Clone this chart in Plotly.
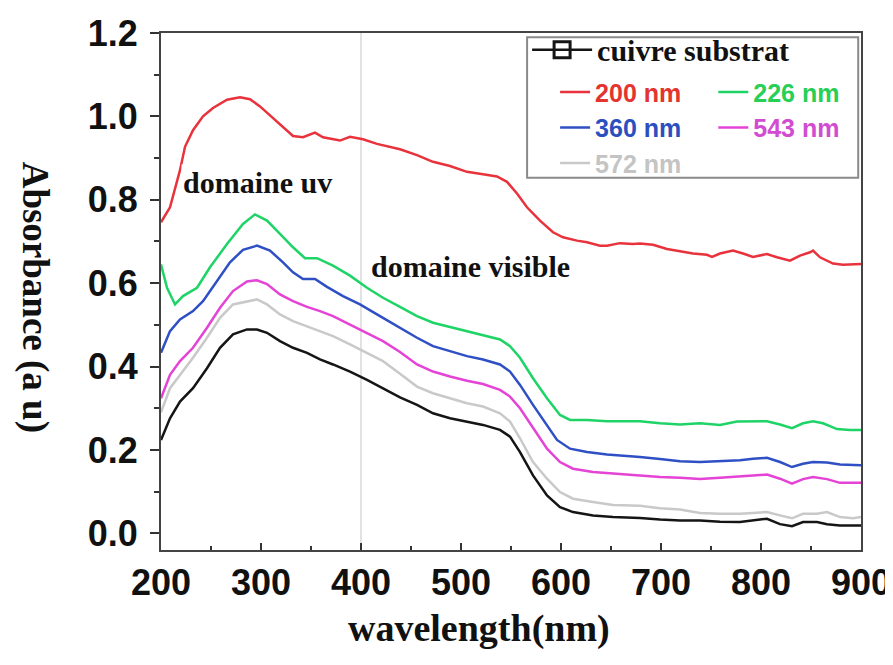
import plotly.graph_objects as go

# ---- data ----
red_x = [200, 209, 219, 224, 232, 242, 252, 266, 279, 289, 299, 312, 326, 332, 342, 354, 362, 379, 389, 402,
         416, 439, 456, 472, 489, 506, 522, 536, 546, 556, 566, 579, 592, 602, 616, 626, 639, 646, 659, 672,
         679, 692, 706, 719, 732, 746, 751, 759, 772, 782, 792, 806, 816, 829, 839, 849, 852, 859, 872, 882,
         892, 900]
red_y = [0.746, 0.782, 0.871, 0.927, 0.967, 1.000, 1.020, 1.040, 1.046, 1.041, 1.024, 0.996, 0.967, 0.953, 0.950,
         0.961, 0.950, 0.942, 0.951, 0.945, 0.934, 0.921, 0.907, 0.891, 0.881, 0.867, 0.861, 0.856, 0.843, 0.815,
         0.782, 0.750, 0.722, 0.710, 0.702, 0.698, 0.690, 0.690, 0.696, 0.694, 0.695, 0.692, 0.682, 0.676, 0.671,
         0.668, 0.663, 0.671, 0.678, 0.671, 0.663, 0.670, 0.662, 0.654, 0.666, 0.674, 0.678, 0.662, 0.647, 0.644,
         0.646, 0.646]

green_x = [200, 206, 214, 222, 236, 249, 266, 282, 294, 306, 319, 332, 344, 356, 372, 389, 406, 422, 439, 456,
           472, 489, 506, 522, 539, 549, 559, 572, 586, 599, 609, 626, 646, 666, 679, 699, 719, 739, 759, 776,
           792, 806, 819, 831, 842, 852, 862, 876, 889, 900]
green_y = [0.645, 0.589, 0.549, 0.569, 0.589, 0.638, 0.694, 0.742, 0.765, 0.750, 0.718, 0.686, 0.660, 0.660, 0.642,
           0.618, 0.589, 0.565, 0.543, 0.521, 0.505, 0.495, 0.485, 0.475, 0.465, 0.449, 0.421, 0.372, 0.324, 0.284,
           0.272, 0.272, 0.269, 0.269, 0.269, 0.264, 0.261, 0.264, 0.260, 0.268, 0.268, 0.269, 0.261, 0.252, 0.264,
           0.269, 0.264, 0.250, 0.248, 0.248]

blue_x = [200, 209, 219, 232, 242, 256, 269, 282, 296, 309, 322, 332, 342, 354, 366, 382, 399, 416, 439, 456,
          472, 489, 506, 522, 539, 549, 559, 572, 586, 596, 609, 626, 646, 666, 679, 699, 719, 739, 759, 779,
          792, 806, 819, 831, 842, 852, 866, 879, 900]
blue_y = [0.433, 0.485, 0.513, 0.533, 0.557, 0.606, 0.650, 0.680, 0.690, 0.678, 0.650, 0.626, 0.610, 0.610, 0.591,
          0.569, 0.549, 0.525, 0.493, 0.469, 0.449, 0.437, 0.425, 0.417, 0.405, 0.388, 0.356, 0.308, 0.260, 0.224,
          0.203, 0.195, 0.189, 0.186, 0.183, 0.178, 0.173, 0.171, 0.173, 0.175, 0.179, 0.181, 0.171, 0.159, 0.167,
          0.171, 0.170, 0.165, 0.163]

magenta_x = [200, 209, 219, 232, 246, 259, 272, 286, 296, 306, 319, 332, 346, 359, 372, 389, 406, 422, 439, 456,
             472, 489, 506, 522, 539, 549, 559, 572, 586, 599, 612, 632, 652, 679, 699, 719, 739, 759, 779, 792,
             806, 819, 831, 842, 852, 866, 879, 900]
magenta_y = [0.324, 0.380, 0.413, 0.445, 0.493, 0.541, 0.581, 0.604, 0.607, 0.598, 0.573, 0.557, 0.543, 0.533,
             0.521, 0.501, 0.481, 0.461, 0.435, 0.405, 0.388, 0.376, 0.366, 0.358, 0.344, 0.328, 0.300, 0.252,
             0.203, 0.171, 0.155, 0.147, 0.143, 0.139, 0.135, 0.133, 0.130, 0.133, 0.137, 0.139, 0.141, 0.131,
             0.119, 0.130, 0.135, 0.130, 0.121, 0.121]

gray_x = [200, 209, 219, 232, 246, 259, 272, 286, 296, 306, 319, 332, 346, 359, 372, 389, 406, 422, 439, 456,
          472, 489, 506, 522, 539, 549, 559, 572, 586, 599, 612, 632, 652, 679, 699, 719, 739, 759, 779, 792,
          806, 819, 831, 842, 856, 866, 879, 892, 900]
gray_y = [0.290, 0.348, 0.380, 0.421, 0.469, 0.517, 0.549, 0.557, 0.561, 0.549, 0.525, 0.509, 0.497, 0.485, 0.473,
          0.453, 0.433, 0.413, 0.383, 0.352, 0.336, 0.324, 0.312, 0.304, 0.288, 0.268, 0.228, 0.171, 0.131, 0.099,
          0.083, 0.075, 0.068, 0.066, 0.060, 0.057, 0.049, 0.047, 0.047, 0.049, 0.051, 0.043, 0.036, 0.047, 0.047,
          0.051, 0.039, 0.036, 0.039]

black_x = gray_x
black_y = [0.224, 0.276, 0.316, 0.348, 0.396, 0.445, 0.477, 0.489, 0.489, 0.481, 0.461, 0.445, 0.433, 0.417, 0.405,
           0.388, 0.368, 0.348, 0.326, 0.308, 0.288, 0.276, 0.268, 0.260, 0.248, 0.232, 0.195, 0.139, 0.091, 0.063,
           0.051, 0.043, 0.039, 0.037, 0.033, 0.031, 0.031, 0.028, 0.027, 0.031, 0.035, 0.022, 0.017, 0.027, 0.027,
           0.022, 0.019, 0.019, 0.019]

y_ticks = [0.0, 0.2, 0.4, 0.6, 0.8, 1.0, 1.2]
x_ticks = [200, 300, 400, 500, 600, 700, 800, 900]

SANS = "Liberation Sans"
SERIF = "Liberation Serif"

# name, x, y, line colour, text colour, legend column
series = [
    ("200 nm", red_x, red_y, "#e8323c", "#e3342f", "legend2"),
    ("226 nm", green_x, green_y, "#1fd466", "#27cf55", "legend3"),
    ("360 nm", blue_x, blue_y, "#2f4fc4", "#2b4fc0", "legend2"),
    ("543 nm", magenta_x, magenta_y, "#e443d6", "#d24cd2", "legend3"),
    ("572 nm", gray_x, gray_y, "#c9c9c9", "#c4c4c4", "legend2"),
]

fig = go.Figure()

fig.add_trace(go.Scatter(x=black_x, y=black_y, mode="lines", line=dict(color="#151515", width=2.5),
                         showlegend=False))
# legend key for the substrate curve
fig.add_trace(go.Scatter(x=[None], y=[None], mode="lines+markers",
                         name="cuivre substrat",
                         line=dict(color="#151515", width=2.5),
                         marker=dict(symbol="square-open", size=16, color="#151515", line=dict(width=3)),
                         legend="legend"))

for name, xs, ys, col, tcol, lg in series:
    fig.add_trace(go.Scatter(x=xs, y=ys, mode="lines", line=dict(color=col, width=2.5),
                             name=f"<span style='color:{tcol}'>{name}</span>", legend=lg))

fig.add_shape(type="line", xref="x", yref="paper", x0=400, x1=400, y0=0, y1=1,
              line=dict(color="#d8d8d8", width=1.5), layer="below")
# legend frame
fig.add_shape(type="rect", xref="paper", yref="paper", x0=0.523, x1=0.996, y0=0.72, y1=0.992,
              line=dict(color="#8a8a8a", width=2), fillcolor="rgba(0,0,0,0)")

fig.add_annotation(text="domaine uv", x=0.029, y=0.71, xref="paper", yref="paper",
                   xanchor="left", yanchor="middle", showarrow=False, bgcolor="white",
                   font=dict(family=SERIF, size=30, color="#111", weight="bold"))
fig.add_annotation(text="domaine visible", x=0.297, y=0.549, xref="paper", yref="paper",
                   xanchor="left", yanchor="middle", showarrow=False,
                   font=dict(family=SERIF, size=30, color="#111", weight="bold"))
fig.add_annotation(text="wavelength(nm)", x=0.454, y=-0.152, xref="paper", yref="paper",
                   xanchor="center", yanchor="middle", showarrow=False,
                   font=dict(family=SERIF, size=38, color="#111", weight="bold"))
fig.add_annotation(text="Absorbance (a u)", x=-0.18, y=0.49, xref="paper", yref="paper",
                   xanchor="center", yanchor="middle", showarrow=False, textangle=90,
                   font=dict(family=SERIF, size=37, color="#111", weight="bold"))

fig.update_layout(
    width=893, height=665,
    margin=dict(l=153, r=40, t=25, b=123, autoexpand=False),
    paper_bgcolor="white", plot_bgcolor="white",
    legend=dict(x=0.523, y=1.018, xanchor="left", yanchor="top", bgcolor="rgba(0,0,0,0)",
                font=dict(family=SERIF, size=30, color="#111", weight="bold"), itemwidth=60),
    legend2=dict(x=0.563, y=0.930, xanchor="left", yanchor="top", bgcolor="rgba(0,0,0,0)",
                 tracegroupgap=0, font=dict(family=SANS, size=25, weight="bold")),
    legend3=dict(x=0.789, y=0.930, xanchor="left", yanchor="top", bgcolor="rgba(0,0,0,0)",
                 tracegroupgap=0, font=dict(family=SANS, size=25, weight="bold")),
    xaxis=dict(range=[200, 900], tickvals=x_ticks, ticks="inside", ticklen=7, tickwidth=2,
               tickcolor="#333", showline=True, linecolor="#444", linewidth=2, mirror=True,
               showgrid=False, zeroline=False, ticklabelstandoff=0, automargin=False,
               minor=dict(dtick=50, ticks="inside", ticklen=4, tickcolor="#333", tickwidth=1.5),
               tickfont=dict(family=SANS, size=36, color="#111", weight="bold")),
    yaxis=dict(range=[-0.04, 1.2], tickvals=y_ticks, tickformat=".1f", ticks="outside", ticklen=9,
               tickwidth=2, tickcolor="#333", showline=True, linecolor="#444", linewidth=2, mirror=True,
               showgrid=False, zeroline=False, ticklabelstandoff=5, automargin=False,
               minor=dict(dtick=0.1, tick0=0, ticks="outside", ticklen=5, tickcolor="#333", tickwidth=1.5),
               tickfont=dict(family=SANS, size=36, color="#111", weight="bold")),
)

fig.write_html("out.html")
